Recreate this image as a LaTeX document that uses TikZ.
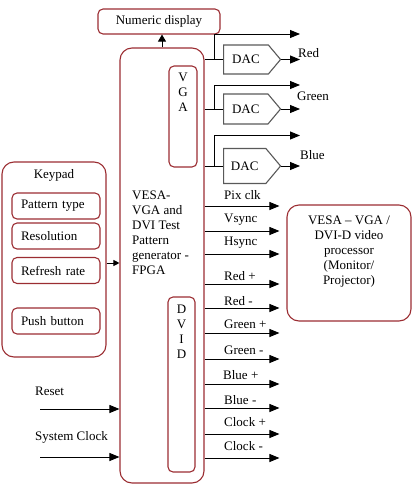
\documentclass[tikz,border=0pt]{standalone}
\usepackage{fontspec}
\setmainfont{Liberation Serif}
\usetikzlibrary{arrows.meta}
\usetikzlibrary{shapes.symbols}
\usetikzlibrary{calc}
\definecolor{boxred}{RGB}{155,45,50}

\begin{document}
\begin{tikzpicture}[x=1pt,y=-1pt,
        font=\fontsize{13}{15}\selectfont,
        bigbox/.style={rectangle, draw=boxred, line width=1.1pt, rounded corners=12pt},
        smallbox/.style={rectangle, draw=boxred, line width=1.1pt, rounded corners=5pt},
        dacbox/.style={signal, signal to=east, signal pointer angle=100, draw=black!65,
            line width=1.1pt, minimum width=57pt, inner sep=0pt, anchor=west},
        sig/.style={line width=0.9pt, -{Triangle[length=10pt,width=8pt]}},
        wire/.style={line width=0.9pt},
        txt/.style={inner sep=0pt, text height=9pt, text depth=3pt}]

        \useasboundingbox (0,0) rectangle (417,490);

        \node[smallbox, minimum width=122pt, minimum height=25pt] (disp) at (159,21.5) {Numeric display};

        \node[bigbox, minimum width=84pt, minimum height=435pt] (fpga) at (162,265.5) {};
        \node[inner sep=0pt, anchor=north west, align=left] (fpgatxt) at (132,190.5) {VESA-\\VGA and\\DVI Test\\Pattern\\generator -\\FPGA};
        \node[smallbox, minimum width=28pt, minimum height=101pt] (vga) at (183,116.5) {};
        \node[inner sep=0pt, anchor=north, align=center] (vgatxt) at (183,72.5) {V\\G\\A};
        \node[smallbox, minimum width=27pt, minimum height=175pt] (dvid) at (181.5,384.5) {};
        \node[inner sep=0pt, anchor=north, align=center] (dvidtxt) at (181.5,304.5) {D\\V\\I\\D};

        \node[bigbox, minimum width=104pt, minimum height=195pt] (keypad) at (54,259.5) {};
        \node[txt] (kptitle) at (54,175) {Keypad};
        \node[smallbox, text width=70pt, inner xsep=9pt, minimum height=26pt, align=left] (ptype) at (56,206) {Pattern type};
        \node[smallbox, text width=70pt, inner xsep=9pt, minimum height=26pt, align=left] (resol) at (56,236) {Resolution};
        \node[smallbox, text width=70pt, inner xsep=9pt, minimum height=26pt, align=left] (refresh) at (56,270.5) {Refresh rate};
        \node[smallbox, text width=70pt, inner xsep=9pt, minimum height=26pt, align=left] (push) at (56,321) {Push button};

        \node[bigbox, minimum width=124pt, minimum height=116pt] (proc) at (349,263) {};
        \node[inner sep=0pt, anchor=north, align=center] (proctxt) at (349,215.5) {VESA -- VGA /\\DVI-D video\\processor\\(Monitor/\\Projector)};

        % inputs
        \draw[sig, -{Triangle[length=7pt,width=8pt]}] (fpga.north) -- (fpga.north |- disp.south);
        \draw[sig, -{Triangle[length=6pt,width=6pt]}] ([yshift=-3.5pt]keypad.east) -- ([yshift=-3.5pt]keypad.east -| fpga.west);
        \coordinate (rst) at (40,409);
        \coordinate (sysclk) at (40,457);
        \draw[sig] (rst) -- (rst -| fpga.west);
        \draw[sig] (sysclk) -- (sysclk -| fpga.west);
        \node[txt, anchor=west] (rstlbl) at (35,392) {Reset};
        \node[txt, anchor=west] (clklbl) at (35,437) {System Clock};

        % VGA colour outputs
        \node[dacbox, minimum height=29pt] (dac1) at (223,59.5) {DAC};
        \node[dacbox, minimum height=30pt] (dac2) at (223,109) {DAC};
        \node[dacbox, minimum height=35pt] (dac3) at (223,166) {DAC};
        \coordinate (redtop) at (300,34);
        \coordinate (greentop) at (300,85);
        \coordinate (bluetop) at (300,135.5);

        \draw[wire] (fpga.east |- dac1.west) -- (dac1.west);
        \draw[sig] ($(fpga.east |- dac1.west)+(10,0)$) |- (redtop);
        \draw[sig] (dac1.east) -- (dac1.east -| redtop);
        \draw[wire] (fpga.east |- dac2.west) -- (dac2.west);
        \draw[sig] ($(fpga.east |- dac2.west)+(10,0)$) |- (greentop);
        \draw[sig] (dac2.east) -- (dac2.east -| greentop);
        \draw[wire] (fpga.east |- dac3.west) -- (dac3.west);
        \draw[sig] ($(fpga.east |- dac3.west)+(10,0)$) |- (bluetop);
        \draw[sig] (dac3.east) -- (dac3.east -| bluetop);
        \node[txt, anchor=west] (redlbl) at (298,54) {Red};
        \node[txt, anchor=west] (greenlbl) at (297,97) {Green};
        \node[txt, anchor=west] (bluelbl) at (300,156) {Blue};

        % sync and DVI outputs
        \draw[sig] (fpga.east |- 0,206) -- ([xshift=-7pt]proc.west |- 0,206);
        \draw[sig] (fpga.east |- 0,231) -- ([xshift=-7pt]proc.west |- 0,231);
        \draw[sig] (fpga.east |- 0,254) -- ([xshift=-7pt]proc.west |- 0,254);
        \draw[sig] (fpga.east |- 0,284) -- ([xshift=-7pt]proc.west |- 0,284);
        \draw[sig] (fpga.east |- 0,308) -- ([xshift=-7pt]proc.west |- 0,308);
        \draw[sig] (fpga.east |- 0,333) -- ([xshift=-7pt]proc.west |- 0,333);
        \draw[sig] (fpga.east |- 0,359) -- ([xshift=-7pt]proc.west |- 0,359);
        \draw[sig] (fpga.east |- 0,384) -- ([xshift=-7pt]proc.west |- 0,384);
        \draw[sig] (fpga.east |- 0,408) -- ([xshift=-7pt]proc.west |- 0,408);
        \draw[sig] (fpga.east |- 0,434) -- ([xshift=-7pt]proc.west |- 0,434);
        \draw[sig] (fpga.east |- 0,458) -- ([xshift=-7pt]proc.west |- 0,458);

        \node[txt, anchor=west] (pixlbl) at (224,196) {Pix clk};
        \node[txt, anchor=west] (vslbl) at (224,219) {Vsync};
        \node[txt, anchor=west] (hslbl) at (224,242) {Hsync};
        \node[txt, anchor=west] (rplbl) at (224,277) {Red +};
        \node[txt, anchor=west] (rmlbl) at (224,302) {Red -};
        \node[txt, anchor=west] (gplbl) at (224,325) {Green +};
        \node[txt, anchor=west] (gmlbl) at (224,351) {Green -};
        \node[txt, anchor=west] (bplbl) at (223,376) {Blue +};
        \node[txt, anchor=west] (bmlbl) at (224,401) {Blue -};
        \node[txt, anchor=west] (cplbl) at (224,423) {Clock +};
        \node[txt, anchor=west] (cmlbl) at (224,447) {Clock -};
    \end{tikzpicture}
\end{document}
